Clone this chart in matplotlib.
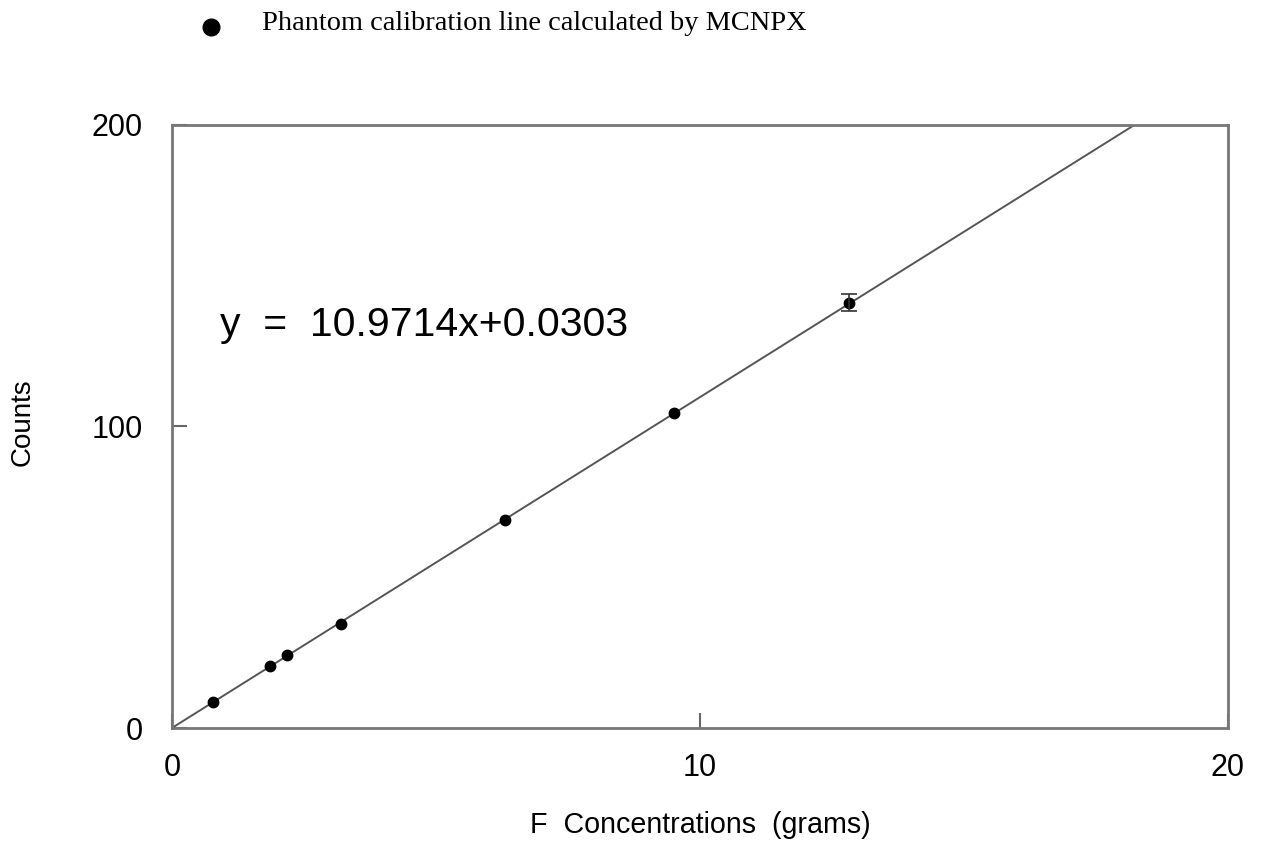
import matplotlib
matplotlib.use("Agg")
import matplotlib.pyplot as plt
import numpy as np

# Data
conc = [0.78, 1.86, 2.18, 3.21, 6.30, 9.51, 12.83]
counts = [8.6, 20.6, 24.2, 34.5, 69.0, 104.5, 141.0]
err_x = [12.83]
err_y = [141.0]
err_size = [2.8]
slope = 10.9714
intercept = 0.0303
x_ticks = [0, 10, 20]
y_ticks = [0, 100, 200]
legend_label = "Phantom calibration line calculated by MCNPX"
eq_label = "y  =  10.9714x+0.0303"

W, H = 1263, 846
fig = plt.figure(figsize=(W / 100, H / 100), dpi=100)
ax = fig.add_axes([172 / W, 1 - 728 / H, (1228 - 172) / W, (728 - 125) / H])

sans = "Liberation Sans"
serif = "Liberation Serif"

# fit line
x_end = (200 - intercept) / slope
xl = np.array([0, x_end])
ax.plot(xl, slope * xl + intercept, color="#555555", lw=1.4, zorder=2)

# points
ax.plot(conc, counts, "o", color="black", ms=7.5, zorder=3)
ax.errorbar(err_x, err_y, yerr=err_size, fmt="none", ecolor="#333333",
            elinewidth=1.2, capsize=6, capthick=1.2, zorder=3)

ax.set_xlim(0, 20)
ax.set_ylim(0, 200)
ax.set_xticks(x_ticks)
ax.set_yticks(y_ticks)
ax.tick_params(direction="in", length=11, width=1.5, color="#666666",
               labelsize=22)
ax.tick_params(axis="x", pad=18)
ax.tick_params(axis="y", pad=21)
for lab in ax.get_xticklabels() + ax.get_yticklabels():
    lab.set_fontfamily(sans)
for s in ax.spines.values():
    s.set_color("#777777")
    s.set_linewidth(2)

fig.text(220 / W, 1 - 325 / H, eq_label, fontsize=29.5, family=sans,
         va="center", ha="left")
fig.text(23 / W, 1 - 422 / H, "Counts", rotation=90, fontsize=20, family=sans,
         va="center", ha="center")
fig.text(700 / W, 1 - 825 / H, "F  Concentrations  (grams)", fontsize=20.6, family=sans,
         va="center", ha="center")

# legend at top
fig.lines.append(matplotlib.lines.Line2D([211 / W], [1 - 27 / H], marker="o", ms=12,
                                         color="black", transform=fig.transFigure))
fig.text(262 / W, 1 - 24 / H, legend_label, fontsize=20.4, family=serif,
         va="center", ha="left")

fig.savefig("out.png", dpi=100)
